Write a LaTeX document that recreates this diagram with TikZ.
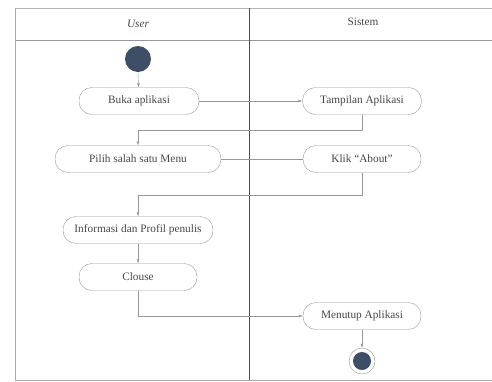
\documentclass[tikz,border=0pt]{standalone}
\usepackage{fontspec}
\setmainfont{Liberation Serif}
\usetikzlibrary{arrows.meta}

\definecolor{lane}{RGB}{150,150,155}
\definecolor{dot}{RGB}{61,78,102}
\definecolor{txt}{RGB}{70,70,75}

\begin{document}
\begin{tikzpicture}[x=1pt, y=-1pt, every node/.style={font=\fontsize{11.3}{13}\selectfont, text=txt}, >={Latex[length=1.4mm, width=1mm]}, act/.style={draw=lane, rounded corners=13pt, minimum height=27pt, inner sep=2pt}, flow/.style={draw=lane, ->}]
	\useasboundingbox (0,0) rectangle (492,381);
	% swimlanes
	\draw[lane!70] (15,8) -- (492,8);
	\draw[lane] (15,40) -- (492,40);
	\draw[lane!80] (15,8) -- (15,380) -- (492,380);
	\draw[black!70] (249,8) -- (249,380);
	\node[font=\fontsize{11.3}{13}\selectfont\itshape] (user) at (138,24) {User};
	\node (sistem) at (363,22) {Sistem};
	% activities
	\fill[dot] (138,59) circle (13);
	\coordinate (start) at (138,72);
	\node[act, minimum width=120pt] (buka) at (139,101) {Buka aplikasi};
	\node[act, minimum width=119pt] (tampil) at (362,101) {Tampilan Aplikasi};
	\node[act, minimum width=166pt] (pilih) at (138,159) {Pilih salah satu Menu};
	\node[act, minimum width=118pt] (klik) at (362,159) {Klik ``About''};
	\node[act, minimum width=150pt] (info) at (138,230) {Informasi dan Profil penulis};
	\node[act, minimum width=118pt] (clouse) at (138,277) {Clouse};
	\node[act, minimum width=118pt] (tutup) at (362,316) {Menutup Aplikasi};
	\node[draw=lane, circle, minimum size=26pt, inner sep=0pt] (akhir) at (362,361) {};
	\fill[dot] (akhir) circle (9);
	% flows
	\draw[flow] (start) -- (buka);
	\draw[flow] (buka) -- (tampil);
	\draw[flow] (tampil.south) -- (362,130) -| (pilih.north);
	\draw[lane] (pilih) -- (klik);
	\draw[flow] (klik.south) -- (362,195) -| (info.north);
	\draw[flow] (info) -- (clouse);
	\draw[flow] (clouse.south) |- (tutup.west);
	\draw[flow] (tutup) -- (akhir);
\end{tikzpicture}
\end{document}
